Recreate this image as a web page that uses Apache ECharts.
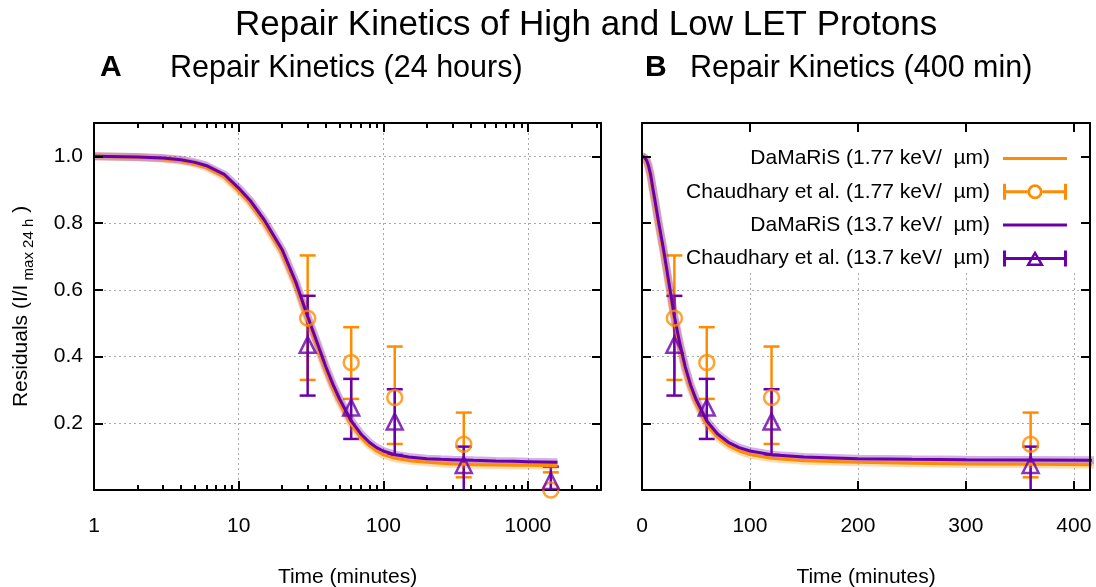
<!DOCTYPE html>
<html>
<head>
<meta charset="utf-8">
<title>Repair Kinetics of High and Low LET Protons</title>
<script src="https://cdn.jsdelivr.net/npm/echarts@6/dist/echarts.min.js"></script>
<style>
  html, body { margin: 0; padding: 0; background: #fff; }
  #chart { width: 1096px; height: 587px; }
</style>
</head>
<body>
<div id="chart"></div>
<script>
// DaMaRiS model curves: residual foci (I/I max 24 h) against time in minutes
var modelTime = [0, 1, 2, 3, 4, 5, 6, 8, 10, 12, 15, 20, 25, 30, 35, 40, 45, 50, 60, 70,
  80, 90, 100, 120, 150, 200, 250, 300, 360, 420, 600, 800, 1000, 1600];
var modelLow = [1.0, 1.0, 0.997, 0.993, 0.987, 0.978, 0.967, 0.938, 0.897, 0.86, 0.8, 0.71,
  0.61, 0.51, 0.43, 0.36, 0.305, 0.262, 0.197, 0.158, 0.133, 0.117, 0.106, 0.095, 0.088,
  0.083, 0.08, 0.078, 0.077, 0.076, 0.075, 0.074, 0.074, 0.073];
var modelHigh = [1.0, 1.0, 0.998, 0.995, 0.99, 0.982, 0.972, 0.945, 0.905, 0.868, 0.81, 0.72,
  0.62, 0.52, 0.44, 0.37, 0.315, 0.272, 0.207, 0.168, 0.143, 0.127, 0.117, 0.106, 0.099,
  0.094, 0.092, 0.091, 0.09, 0.089, 0.087, 0.086, 0.085, 0.083];

// Chaudhary et al. measurements with error bars
var expTime = [30, 60, 120, 360, 1440];
var expLow = [0.515, 0.382, 0.277, 0.137, 0.0];
var expLowMin = [0.33, 0.273, 0.138, 0.038, -0.05];
var expLowMax = [0.703, 0.488, 0.43, 0.232, 0.053];
var expHigh = [0.435, 0.247, 0.205, 0.075, 0.027];
var expHighMin = [0.283, 0.153, 0.105, -0.02, -0.03];
var expHighMax = [0.582, 0.333, 0.302, 0.13, 0.07];

// ticks
var logMajor = [1, 10, 100, 1000];
var logMinor = [2, 3, 4, 5, 6, 7, 8, 9, 20, 30, 40, 50, 60, 70, 80, 90,
  200, 300, 400, 500, 600, 700, 800, 900, 2000, 3000];
var linMajor = [0, 100, 200, 300, 400];
var yMajor = [0.2, 0.4, 0.6, 0.8, 1.0];

var nameLowModel = 'DaMaRiS (1.77 keV/  µm)',
  nameLowExp = 'Chaudhary et al. (1.77 keV/  µm)',
  nameHighModel = 'DaMaRiS (13.7 keV/  µm)',
  nameHighExp = 'Chaudhary et al. (13.7 keV/  µm)';

var ORANGE = '#ff8c00', PURPLE = '#6a00aa', FONT = 'Liberation Sans';

var lineIcon = 'path://M0 0H64V3H0Z';
var circleIcon = 'path://M0 0h3v16H0Z M61 0H64v16h-3Z M0 6.5h24.5v3H0Z M39.5 6.5H64v3H39.5Z ' +
  'M24.5 8A7.5 7.5 0 1 1 39.5 8A7.5 7.5 0 1 1 24.5 8Z M27.2 8A4.8 4.8 0 1 0 36.8 8A4.8 4.8 0 1 0 27.2 8Z';
var triIcon = 'path://M0 0h3v16H0Z M61 0H64v16h-3Z M0 6.5h64v3H0Z ' +
  'M32 0L41 15.5L23 15.5Z M32 4.8L27.3 13L36.7 13Z';

function pairs(xs, ys, keep) {
  var out = [];
  xs.forEach(function (x, i) { if (keep(x)) out.push([x, ys[i]]); });
  return out;
}

function ranges(keep, lo, hi) {
  var out = [];
  expTime.forEach(function (x, i) { if (keep(x)) out.push([x, lo[i], hi[i]]); });
  return out;
}

var inLog = function (t) { return t >= 1; },
  inLin = function (t) { return t <= 420; },
  inLinExp = function (t) { return t <= 415; };

var tickStyle = { color: '#000', width: 2 },
  lineStyle = { color: '#000', width: 2 },
  gridLine = { color: '#aaa', width: 1, type: [2, 3] },
  labelFont = { fontFamily: FONT, fontSize: 21, color: '#000' };

function axis(o) {
  var base = {
    z: 3,
    axisLine: { show: false, onZero: false },
    axisTick: { show: false },
    axisLabel: { show: false },
    splitLine: { show: false }
  };
  for (var k in o) base[k] = o[k];
  return base;
}

var logScale = { type: 'log', logBase: 10, min: 1, max: 3200 },
  linScale = { type: 'value', min: 0, max: 415, interval: 100 },
  yScale = { type: 'value', min: 0, max: 1.1, interval: 0.2 };

function withScale(scale, o) {
  var r = {};
  for (var k in scale) r[k] = scale[k];
  for (var j in o) r[j] = o[j];
  return axis(r);
}

var xName = {
  name: 'Time (minutes)', nameLocation: 'middle', nameGap: 77,
  nameTextStyle: labelFont
};

var xAxes = [
  // 0: left panel bottom frame
  withScale(logScale, Object.assign({
    gridIndex: 0, position: 'bottom',
    axisLine: { show: true, onZero: false, lineStyle: lineStyle },
    axisTick: { show: true, inside: true, length: 9, lineStyle: tickStyle, customValues: logMajor },
    axisLabel: Object.assign({ show: true, margin: 26, customValues: logMajor,
      formatter: function (v) { return String(v); } }, labelFont)
  }, xName)),
  // 1: left panel bottom minor ticks
  withScale(logScale, {
    gridIndex: 0, position: 'bottom',
    axisTick: { show: true, inside: true, length: 5, lineStyle: tickStyle, customValues: logMinor }
  }),
  // 2: left panel top frame
  withScale(logScale, {
    gridIndex: 0, position: 'top',
    axisLine: { show: true, onZero: false, lineStyle: lineStyle },
    axisTick: { show: true, inside: true, length: 9, lineStyle: tickStyle, customValues: logMajor }
  }),
  // 3: left panel top minor ticks
  withScale(logScale, {
    gridIndex: 0, position: 'top',
    axisTick: { show: true, inside: true, length: 5, lineStyle: tickStyle, customValues: logMinor }
  }),
  // 4: left panel grid lines
  withScale(logScale, {
    gridIndex: 0, position: 'bottom', z: 0,
    axisTick: { show: false, customValues: [10, 100, 1000] },
    splitLine: { show: true, lineStyle: gridLine }
  }),
  // 5: right panel bottom frame
  withScale(linScale, Object.assign({
    gridIndex: 1, position: 'bottom',
    axisLine: { show: true, onZero: false, lineStyle: lineStyle },
    axisTick: { show: true, inside: true, length: 9, lineStyle: tickStyle, customValues: linMajor },
    axisLabel: Object.assign({ show: true, margin: 26, customValues: linMajor }, labelFont)
  }, xName)),
  // 6: right panel top frame
  withScale(linScale, {
    gridIndex: 1, position: 'top',
    axisLine: { show: true, onZero: false, lineStyle: lineStyle },
    axisTick: { show: true, inside: true, length: 9, lineStyle: tickStyle, customValues: linMajor }
  }),
  // 7: right panel grid lines
  withScale(linScale, {
    gridIndex: 1, position: 'bottom', z: 0,
    axisTick: { show: false, customValues: [100, 200, 300, 400] },
    splitLine: { show: true, lineStyle: gridLine }
  })
];

var yAxes = [
  // 0: left panel left frame with labels
  withScale(yScale, {
    gridIndex: 0, position: 'left',
    axisLine: { show: true, onZero: false, lineStyle: lineStyle },
    axisTick: { show: true, inside: true, length: 9, lineStyle: tickStyle, customValues: yMajor },
    axisLabel: Object.assign({ show: true, margin: 11, customValues: yMajor,
      formatter: function (v) { return v.toFixed(1); } }, labelFont),
    name: '{a|Residuals (I/I}{s| max 24 h}{a| )}',
    nameLocation: 'middle', nameGap: 58,
    nameTextStyle: {
      rich: {
        a: { fontFamily: FONT, fontSize: 21, color: '#000', lineHeight: 30 },
        s: { fontFamily: FONT, fontSize: 15, color: '#000', lineHeight: 18, verticalAlign: 'bottom' }
      }
    }
  }),
  // 1: left panel right frame
  withScale(yScale, {
    gridIndex: 0, position: 'right',
    axisLine: { show: true, onZero: false, lineStyle: lineStyle },
    axisTick: { show: true, inside: true, length: 9, lineStyle: tickStyle, customValues: yMajor }
  }),
  // 2: left panel grid lines
  withScale(yScale, {
    gridIndex: 0, position: 'left', z: 0,
    splitLine: { show: true, lineStyle: gridLine }
  }),
  // 3: right panel left frame
  withScale(yScale, {
    gridIndex: 1, position: 'left',
    axisLine: { show: true, onZero: false, lineStyle: lineStyle },
    axisTick: { show: true, inside: true, length: 9, lineStyle: tickStyle, customValues: yMajor }
  }),
  // 4: right panel right frame
  withScale(yScale, {
    gridIndex: 1, position: 'right',
    axisLine: { show: true, onZero: false, lineStyle: lineStyle },
    axisTick: { show: true, inside: true, length: 9, lineStyle: tickStyle, customValues: yMajor }
  }),
  // 5: right panel grid lines
  withScale(yScale, {
    gridIndex: 1, position: 'left', z: 0,
    splitLine: { show: true, lineStyle: gridLine }
  })
];

function band(color, data, xi, yi) {
  return {
    type: 'line', xAxisIndex: xi, yAxisIndex: yi, data: data, z: 2,
    symbol: 'none', silent: true,
    lineStyle: { color: color, width: 8, opacity: 0.3 }
  };
}

function curve(name, color, data, xi, yi) {
  return {
    name: name, type: 'line', xAxisIndex: xi, yAxisIndex: yi, data: data, z: 2,
    symbol: 'none',
    itemStyle: { color: color },
    lineStyle: { color: color, width: 3 }
  };
}

function errorBars(color, data, xi, yi) {
  return {
    type: 'custom', xAxisIndex: xi, yAxisIndex: yi, clip: true, z: 2, silent: true,
    encode: { x: 0, y: [1, 2] },
    data: data,
    renderItem: function (params, api) {
      var x = api.value(0),
        lo = api.coord([x, api.value(1)]),
        hi = api.coord([x, api.value(2)]),
        w = 8,
        style = { stroke: color, lineWidth: 2.5, fill: 'none' };
      return {
        type: 'group',
        children: [
          { type: 'line', shape: { x1: lo[0], y1: lo[1], x2: hi[0], y2: hi[1] }, style: style },
          { type: 'line', shape: { x1: hi[0] - w, y1: hi[1], x2: hi[0] + w, y2: hi[1] }, style: style },
          { type: 'line', shape: { x1: lo[0] - w, y1: lo[1], x2: lo[0] + w, y2: lo[1] }, style: style }
        ]
      };
    }
  };
}

function points(name, color, symbol, size, data, xi, yi) {
  return {
    name: name, type: 'scatter', xAxisIndex: xi, yAxisIndex: yi, data: data, z: 4,
    clip: false, symbol: symbol, symbolSize: size,
    itemStyle: { color: 'rgba(0,0,0,0)', borderColor: color, borderWidth: 2.5 }
  };
}

function panel(keepLine, keepExp, xi, yi) {
  return [
    band(ORANGE, pairs(modelTime, modelLow, keepLine), xi, yi),
    band(PURPLE, pairs(modelTime, modelHigh, keepLine), xi, yi),
    curve(nameLowModel, ORANGE, pairs(modelTime, modelLow, keepLine), xi, yi),
    curve(nameHighModel, PURPLE, pairs(modelTime, modelHigh, keepLine), xi, yi),
    errorBars(ORANGE, ranges(keepExp, expLowMin, expLowMax), xi, yi),
    errorBars(PURPLE, ranges(keepExp, expHighMin, expHighMax), xi, yi),
    points(nameLowExp, ORANGE, 'circle', 15, pairs(expTime, expLow, keepExp), xi, yi),
    points(nameHighExp, PURPLE, 'triangle', 16, pairs(expTime, expHigh, keepExp), xi, yi)
  ];
}

var titleFont = { fontFamily: FONT, color: '#000', fontWeight: 'normal' };

function iconStyle(color) {
  return { color: color, borderColor: color, borderWidth: 0, opacity: 1 };
}

var option = {
  backgroundColor: '#fff',
  animation: false,
  title: [
    { text: 'Repair Kinetics of High and Low LET Protons', left: 235, top: 8, padding: 0,
      textStyle: Object.assign({ fontSize: 35 }, titleFont) },
    { text: 'A', left: 100, top: 53, padding: 0,
      textStyle: Object.assign({}, titleFont, { fontSize: 30, fontWeight: 'bold' }) },
    { text: 'Repair Kinetics (24 hours)', left: 170, top: 53, padding: 0,
      textStyle: Object.assign({ fontSize: 30.5 }, titleFont) },
    { text: 'B', left: 645, top: 53, padding: 0,
      textStyle: Object.assign({}, titleFont, { fontSize: 30, fontWeight: 'bold' }) },
    { text: 'Repair Kinetics (400 min)', left: 690, top: 53, padding: 0,
      textStyle: Object.assign({ fontSize: 30.5 }, titleFont) }
  ],
  grid: [
    { left: 94, top: 123, width: 507, height: 367, outerBoundsMode: 'none' },
    { left: 642, top: 123, width: 448, height: 367, outerBoundsMode: 'none' }
  ],
  legend: {
    orient: 'vertical', align: 'right', right: 7, top: 124,
    padding: [24, 22, 2, 45], itemGap: 12.3, itemWidth: 64, itemHeight: 22,
    backgroundColor: '#fff', z: 1,
    textStyle: { fontFamily: FONT, fontSize: 21, color: '#000', padding: [0, 8, 0, 0] },
    data: [
      { name: nameLowModel, icon: lineIcon, itemStyle: iconStyle(ORANGE) },
      { name: nameLowExp, icon: circleIcon, itemStyle: iconStyle(ORANGE) },
      { name: nameHighModel, icon: lineIcon, itemStyle: iconStyle(PURPLE) },
      { name: nameHighExp, icon: triIcon, itemStyle: iconStyle(PURPLE) }
    ]
  },
  xAxis: xAxes,
  yAxis: yAxes,
  series: panel(inLog, inLog, 4, 2).concat(panel(inLin, inLinExp, 7, 5))
};

var chart = echarts.init(document.getElementById('chart'));
chart.setOption(option);
</script>
</body>
</html>
